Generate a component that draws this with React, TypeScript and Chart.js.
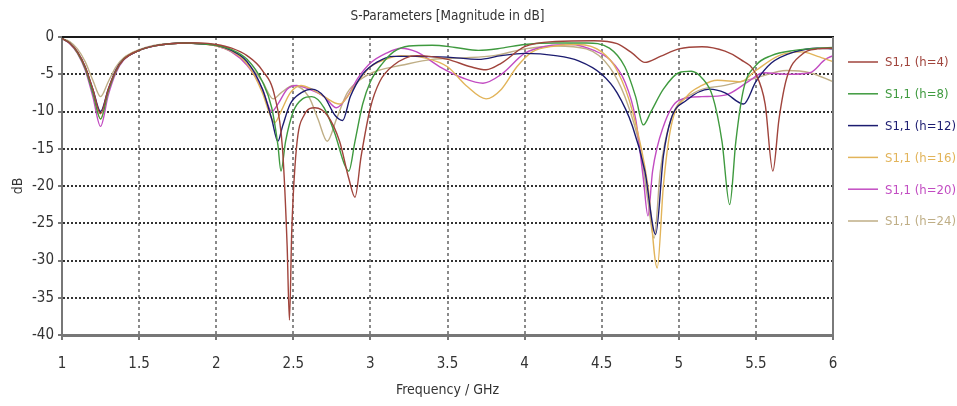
import React, { useEffect, useRef } from 'react';
import { Chart, registerables } from 'chart.js';

Chart.register(...registerables);

const FONT = '"Liberation Sans Narrow", "DejaVu Sans Condensed", "Open Sans", sans-serif';

const TITLE = 'S-Parameters [Magnitude in dB]';
const X_TITLE = 'Frequency / GHz';
const Y_TITLE = 'dB';

const xMin = 1;
const xMax = 6;
const xStep = 0.5;
const yMin = -40;
const yMax = 0;
const yStep = 5;

const seriesLabels = ['S1,1 (h=4)', 'S1,1 (h=8)', 'S1,1 (h=12)', 'S1,1 (h=16)', 'S1,1 (h=20)', 'S1,1 (h=24)'];
const seriesColors = ['#a0443c', '#3f9a3f', '#1c1c70', '#e2b45a', '#c24cc2', '#bfae86'];

const h4Freq = [1.0, 1.05, 1.1, 1.15, 1.2, 1.25, 1.3, 1.35, 1.4, 1.5, 1.6, 1.7, 1.8, 1.9, 2.0, 2.1, 2.2, 2.3, 2.38, 2.43, 2.46, 2.475, 2.49, 2.52, 2.57, 2.64, 2.72, 2.8, 2.86, 2.9, 2.94, 3.0, 3.06, 3.15, 3.3, 3.5, 3.65, 3.75, 3.85, 4.0, 4.2, 4.45, 4.6, 4.7, 4.78, 4.88, 5.0, 5.15, 5.3, 5.4, 5.5, 5.56, 5.61, 5.65, 5.7, 5.8, 5.9, 6.0];
const h4Db = [-0.2, -0.8, -2, -4, -7, -10.3, -7, -4.5, -3, -1.8, -1.2, -0.9, -0.8, -0.8, -1.0, -1.5, -2.5, -4.5, -8, -15, -28, -38, -26, -15, -10.5, -9.5, -10.5, -14, -19, -21.5, -16, -9.5, -6, -3.8, -2.5, -3, -4, -4.4, -3.5, -1.3, -0.6, -0.5, -0.9, -2.2, -3.4, -2.6, -1.6, -1.3, -1.9, -3, -5, -9, -18, -11, -5.5, -2.3, -1.6, -1.5];

const h8Freq = [1.0, 1.05, 1.1, 1.15, 1.2, 1.25, 1.3, 1.35, 1.4, 1.5, 1.6, 1.7, 1.8, 1.9, 2.0, 2.1, 2.2, 2.3, 2.36, 2.4, 2.42, 2.45, 2.5, 2.56, 2.62, 2.7, 2.77, 2.83, 2.86, 2.9, 2.95, 3.0, 3.08, 3.15, 3.25, 3.4, 3.55, 3.7, 3.85, 4.0, 4.2, 4.4, 4.55, 4.65, 4.72, 4.77, 4.82, 4.9, 5.0, 5.08, 5.15, 5.22, 5.28, 5.33, 5.37, 5.42, 5.5, 5.6, 5.75, 5.9, 6.0];
const h8Db = [-0.2, -0.8, -2.1, -4.2, -7.5, -11, -7.3, -4.6, -3, -1.8, -1.2, -0.9, -0.8, -0.9, -1.1, -1.7, -3, -6, -9.5, -14.5, -18, -14, -10, -8.3, -8, -9.5, -13, -17, -18, -14, -9, -6, -3.5, -2, -1.2, -1.1, -1.4, -1.8, -1.5, -1.0, -0.8, -0.8, -1.5, -4, -8, -11.8, -10, -7, -4.8, -4.6, -5.5, -8, -14, -22.5, -14, -7, -3.8, -2.5, -1.8, -1.5, -1.4];

const h12Freq = [1.0, 1.05, 1.1, 1.15, 1.2, 1.25, 1.3, 1.35, 1.4, 1.5, 1.6, 1.7, 1.8, 1.9, 2.0, 2.1, 2.2, 2.3, 2.36, 2.4, 2.43, 2.48, 2.55, 2.62, 2.7, 2.77, 2.82, 2.87, 2.95, 3.05, 3.15, 3.3, 3.5, 3.7, 3.85, 4.0, 4.2, 4.35, 4.5, 4.6, 4.7, 4.78, 4.85, 4.9, 4.95, 5.05, 5.2, 5.3, 5.42, 5.5, 5.6, 5.75, 5.9, 6.0];
const h12Db = [-0.2, -0.8, -2, -4, -7, -10, -7, -4.4, -3, -1.8, -1.2, -0.9, -0.8, -0.9, -1.1, -1.8, -3.3, -7, -11, -14, -12, -9, -7.5, -7, -8, -10.5, -11.2, -8, -5, -3.3, -2.6, -2.6, -2.7, -3, -2.5, -2.2, -2.5, -3.2, -5, -7.5, -12, -18, -26.5, -16, -11, -8.5, -7, -7.5, -9, -6, -3.5, -2, -1.5, -1.6];

const h16Freq = [1.0, 1.05, 1.1, 1.15, 1.2, 1.25, 1.3, 1.35, 1.4, 1.5, 1.6, 1.7, 1.8, 1.9, 2.0, 2.1, 2.2, 2.3, 2.35, 2.38, 2.42, 2.48, 2.55, 2.62, 2.7, 2.8, 2.9, 3.0, 3.1, 3.2, 3.35, 3.5, 3.62, 3.75, 3.85, 3.95, 4.05, 4.2, 4.35, 4.5, 4.6, 4.7, 4.8, 4.86, 4.9, 4.95, 5.05, 5.15, 5.25, 5.4, 5.5, 5.65, 5.8, 5.9, 6.0];
const h16Db = [-0.2, -0.8, -2.1, -4.1, -7.3, -11, -7.2, -4.5, -3, -1.8, -1.2, -0.9, -0.8, -0.9, -1.2, -1.9, -3.6, -7.5, -10.5, -11.5, -10, -7.5, -6.5, -7, -8, -9, -6.5, -4, -3, -2.5, -2.8, -4, -6.5, -8.3, -7, -4, -2, -1.2, -1, -2, -4.5, -10, -20, -31, -20, -12, -8, -6.5, -5.8, -6, -4.5, -2.5, -2, -2.6, -3.3];

const h20Freq = [1.0, 1.05, 1.1, 1.15, 1.2, 1.25, 1.3, 1.35, 1.4, 1.5, 1.6, 1.7, 1.8, 1.9, 2.0, 2.1, 2.2, 2.3, 2.36, 2.4, 2.46, 2.52, 2.6, 2.7, 2.78, 2.85, 2.92, 3.0, 3.1, 3.2, 3.3, 3.45, 3.6, 3.73, 3.85, 4.0, 4.15, 4.3, 4.45, 4.55, 4.65, 4.72, 4.77, 4.8, 4.83, 4.9, 5.0, 5.15, 5.3, 5.45, 5.55, 5.7, 5.85, 5.95, 6.0];
const h20Db = [-0.2, -0.9, -2.2, -4.4, -8, -12, -7.8, -4.8, -3.1, -1.8, -1.2, -0.9, -0.8, -0.9, -1.2, -2, -3.8, -7, -10, -9, -7, -6.5, -7, -8, -9.5, -8, -5.5, -3.5, -2.2, -1.5, -2, -4, -5.5, -6.2, -5, -2.2, -1.2, -1, -1.8, -3, -6, -11, -19, -24, -18, -12, -8.5, -8, -7.8, -6, -4.8, -5, -4.8, -3, -2.5];

const h24Freq = [1.0, 1.05, 1.1, 1.15, 1.2, 1.25, 1.3, 1.35, 1.4, 1.5, 1.6, 1.7, 1.8, 1.9, 2.0, 2.1, 2.2, 2.3, 2.37, 2.42, 2.5, 2.6, 2.66, 2.72, 2.78, 2.85, 2.95, 3.05, 3.2, 3.4, 3.6, 3.8, 4.0, 4.2, 4.4, 4.55, 4.65, 4.75, 4.8, 4.84, 4.88, 4.95, 5.1, 5.3, 5.5, 5.7, 5.85, 6.0];
const h24Db = [-0.2, -0.6, -1.6, -3.3, -5.8, -8, -6, -4, -2.8, -1.7, -1.1, -0.9, -0.8, -0.9, -1.2, -2, -3.5, -6, -8.3, -7.5, -6.5, -8, -11, -14, -11, -7.5, -5.5, -4.5, -3.8, -3, -2.8, -2.5, -1.6, -1.2, -1.6, -4, -8, -15, -22, -27, -18, -11, -7.5, -6.5, -5.5, -4.5, -4.8, -6];

const seriesFreqs = [h4Freq, h8Freq, h12Freq, h16Freq, h20Freq, h24Freq];
const seriesDb = [h4Db, h8Db, h12Db, h16Db, h20Db, h24Db];

const overlayPlugin = {
  id: 'overlay',
  afterDraw(chart: any) {
    const { ctx, chartArea: a } = chart;
    ctx.save();
    ctx.setLineDash([]);
    ctx.strokeStyle = '#1a1a1a';
    ctx.lineWidth = 2;
    ctx.beginPath();
    ctx.moveTo(a.left, a.top);
    ctx.lineTo(a.right + 1, a.top);
    ctx.stroke();
    ctx.strokeStyle = '#7a7a7a';
    ctx.beginPath();
    ctx.moveTo(a.right, a.top);
    ctx.lineTo(a.right, a.bottom);
    ctx.stroke();
    ctx.font = `13.5px ${FONT}`;
    ctx.fillStyle = '#333';
    ctx.textAlign = 'center';
    ctx.textBaseline = 'middle';
    ctx.fillText(TITLE, (a.left + a.right) / 2, 16);
    ctx.textAlign = 'left';
    ctx.font = `13px ${FONT}`;
    chart.data.datasets.forEach((ds: any, i: number) => {
      const y = 62 + i * 31.8;
      ctx.strokeStyle = ds.borderColor;
      ctx.lineWidth = 1.5;
      ctx.beginPath();
      ctx.moveTo(848, y);
      ctx.lineTo(878, y);
      ctx.stroke();
      ctx.fillStyle = ds.borderColor;
      ctx.fillText(ds.label, 885, y + 1);
    });
    ctx.restore();
  },
};

export default function App() {
  const ref = useRef<HTMLCanvasElement | null>(null);
  useEffect(() => {
    if (!ref.current) return;
    const datasets = seriesLabels.map((label, i) => ({
      label,
      data: seriesFreqs[i].map((f, j) => ({ x: f, y: seriesDb[i][j] })),
      borderColor: seriesColors[i],
      backgroundColor: seriesColors[i],
      borderWidth: 1.4,
      pointRadius: 0,
      cubicInterpolationMode: 'monotone' as const,
      fill: false,
    }));
    const chart = new Chart(ref.current, {
      type: 'line',
      data: { datasets },
      options: {
        responsive: false,
        animation: false,
        devicePixelRatio: 1,
        layout: { padding: { left: 0, top: 37, right: 124, bottom: 0 } },
        plugins: {
          legend: { display: false },
          title: { display: false },
          tooltip: { enabled: false },
        },
        scales: {
          x: {
            type: 'linear',
            min: xMin,
            max: xMax,
            ticks: {
              stepSize: xStep,
              color: '#333',
              font: { family: FONT, size: 15 },
              padding: 15,
              maxRotation: 0,
              callback: (v: any) => String(Number(v)),
            },
            grid: {
              color: '#8a8a8a',
              lineWidth: 2,
              tickLength: 5,
              tickColor: '#777',
              tickBorderDash: [],
            },
            border: { display: true, color: '#777', width: 3, dash: [3, 3] },
            title: {
              display: true,
              text: X_TITLE,
              color: '#333',
              font: { family: FONT, size: 14 },
              padding: { top: 0, bottom: 7 },
            },
            afterFit: (s: any) => {
              s.height = 71;
            },
          },
          y: {
            type: 'linear',
            min: yMin,
            max: yMax,
            ticks: {
              stepSize: yStep,
              color: '#333',
              font: { family: FONT, size: 15 },
              padding: 4,
            },
            grid: {
              color: '#333',
              lineWidth: 2,
              tickLength: 4,
              tickColor: '#777',
              tickBorderDash: [],
            },
            border: { display: true, color: '#777', width: 2, dash: [2, 2] },
            title: {
              display: true,
              text: Y_TITLE,
              color: '#333',
              font: { family: FONT, size: 14 },
              padding: { top: 10, bottom: 0 },
            },
            afterFit: (s: any) => {
              s.width = 62;
            },
          },
        },
      },
      plugins: [overlayPlugin],
    });
    return () => chart.destroy();
  }, []);
  return (
    <div style={{ position: 'fixed', left: 0, top: 0, width: 957, height: 406, background: '#fff' }}>
      <canvas ref={ref} width={957} height={406} style={{ display: 'block' }} />
    </div>
  );
}
